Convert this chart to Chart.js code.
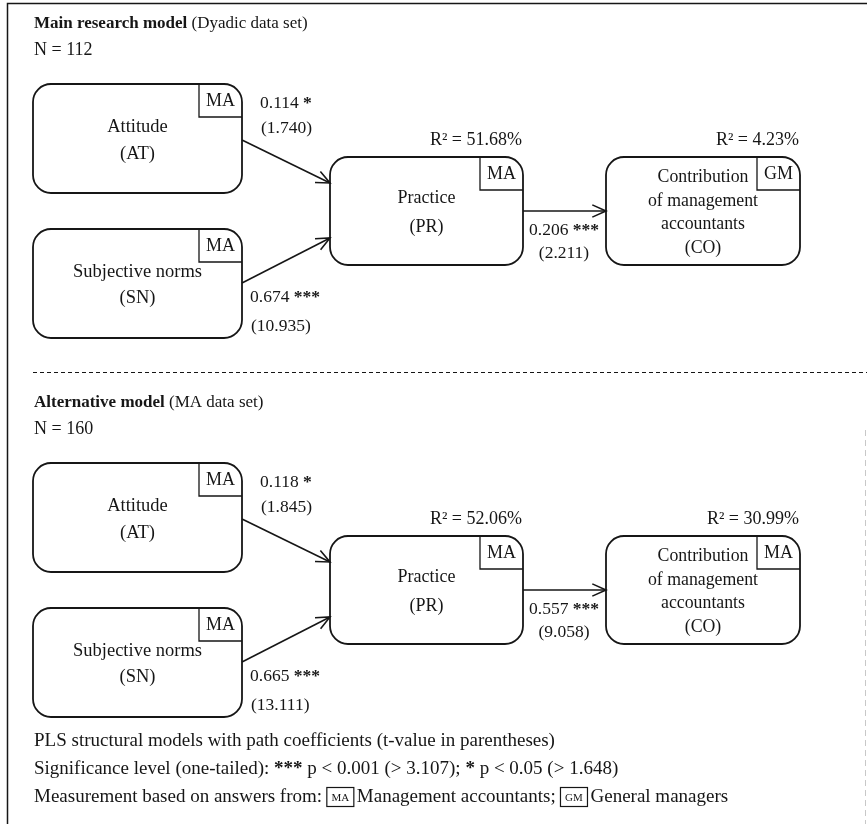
<!DOCTYPE html>
<html>
<head>
<meta charset="utf-8">
<script src="https://cdn.jsdelivr.net/npm/chart.js@4.4.1/dist/chart.umd.min.js"></script>
<style>
    html, body { margin: 0; padding: 0; background: #fff; }
</style>
</head>
<body>
<canvas id="pathChart" width="867" height="824"></canvas>
<script>
// ---- data ----
const modelNames = ['Main research model', 'Alternative model'];
const dataSetNames = ['(Dyadic data set)', '(MA data set)'];
const sampleSizes = [112, 160];

const constructCodes = ['AT', 'SN', 'PR', 'CO'];
const constructLabels = [['Attitude'], ['Subjective norms'], ['Practice'], ['Contribution', 'of management', 'accountants']];
const respondentsMain = ['MA', 'MA', 'MA', 'GM'];
const respondentsAlt = ['MA', 'MA', 'MA', 'MA'];

const pathFrom = ['AT', 'SN', 'PR'];
const pathTo = ['PR', 'PR', 'CO'];
const coefMain = [0.114, 0.674, 0.206];
const tValueMain = [1.740, 10.935, 2.211];
const sigMain = ['*', '***', '***'];
const coefAlt = [0.118, 0.665, 0.557];
const tValueAlt = [1.845, 13.111, 9.058];
const sigAlt = ['*', '***', '***'];

const r2Codes = ['PR', 'CO'];
const r2Main = [51.68, 4.23];
const r2Alt = [52.06, 30.99];

const sigMarks = ['***', '*'];
const sigP = ['0.001', '0.05'];
const sigT = [3.107, 1.648];
const respondentCodes = ['MA', 'GM'];
const respondentNames = ['Management accountants', 'General managers'];

const models = [
    { coef: coefMain, t: tValueMain, sig: sigMain, r2: r2Main, resp: respondentsMain },
    { coef: coefAlt, t: tValueAlt, sig: sigAlt, r2: r2Alt, resp: respondentsAlt }
];

// ---- layout (same units as the hidden axes) ----
const modelTop = [0, 379];
const nodeBox = {
    AT: { x: 33, y: 84, w: 209, h: 109, gap: 27, size: 18.5 },
    SN: { x: 33, y: 229, w: 209, h: 109, gap: 26, size: 18.5 },
    PR: { x: 330, y: 157, w: 193, h: 108, gap: 29, size: 18 },
    CO: { x: 606, y: 157, w: 194, h: 108, gap: 23.5, size: 17.8 }
};
const pathAnchor = [[56, 26], [54, 81], [54, 54]];
const coefPos = [
    { x: 260, y: 103, ty: 128, align: 'left' },
    { x: 250, y: 297, ty: 326, align: 'left' },
    { x: 564, y: 230, ty: 253, align: 'center' }
];
const tagW = 43, tagH = 33, radius = 18;
const ink = '#161616';
const serif = '"Liberation Serif", "Times New Roman", serif';
const fontSize = 17.5;
const noteSize = 19;

// arrow shafts as line datasets
const arrowSets = [];
modelTop.forEach((off, m) => {
    pathFrom.forEach((f, i) => {
        const a = nodeBox[f], b = nodeBox[pathTo[i]];
        arrowSets.push({
            data: [
                { x: a.x + a.w, y: off + a.y + pathAnchor[i][0] },
                { x: b.x, y: off + b.y + pathAnchor[i][1] }
            ],
            showLine: true,
            borderColor: ink,
            borderWidth: 1.6,
            pointRadius: 0
        });
    });
});

function richText(ctx, parts, x, y, align, size) {
    let total = 0;
    parts.forEach(p => {
        ctx.font = (p[1] ? 'bold ' : '') + size + 'px ' + serif;
        total += ctx.measureText(p[0]).width;
    });
    let cx = align === 'center' ? x - total / 2 : (align === 'right' ? x - total : x);
    ctx.textAlign = 'left';
    parts.forEach(p => {
        ctx.font = (p[1] ? 'bold ' : '') + size + 'px ' + serif;
        ctx.fillText(p[0], cx, y);
        cx += ctx.measureText(p[0]).width;
    });
    return cx;
}

const diagramPlugin = {
    id: 'diagram',
    afterDatasetsDraw(chart) {
        const ctx = chart.ctx;
        const px = v => chart.scales.x.getPixelForValue(v);
        const py = v => chart.scales.y.getPixelForValue(v);
        ctx.save();
        ctx.strokeStyle = ink;
        ctx.fillStyle = ink;
        ctx.textBaseline = 'middle';

        // outer frame
        ctx.lineWidth = 1.5;
        ctx.beginPath();
        ctx.moveTo(px(7.5), py(824));
        ctx.lineTo(px(7.5), py(3.5));
        ctx.lineTo(px(867), py(3.5));
        ctx.stroke();
        ctx.strokeStyle = '#c8c8c8';
        ctx.lineWidth = 1;
        ctx.setLineDash([6, 4]);
        ctx.beginPath();
        ctx.moveTo(px(865.5), py(430));
        ctx.lineTo(px(865.5), py(824));
        ctx.stroke();
        ctx.setLineDash([]);
        ctx.strokeStyle = ink;

        // separator
        ctx.lineWidth = 1;
        ctx.setLineDash([4, 3]);
        ctx.beginPath();
        ctx.moveTo(px(33), py(372.5));
        ctx.lineTo(px(867), py(372.5));
        ctx.stroke();
        ctx.setLineDash([]);

        modelTop.forEach((off, m) => {
            const md = models[m];
            richText(ctx, [[modelNames[m], true], [' ' + dataSetNames[m], false]], px(34), py(off + 24), 'left', 17);
            richText(ctx, [['N = ' + sampleSizes[m], false]], px(34), py(off + 50), 'left', 18);

            // construct boxes
            constructCodes.forEach((code, i) => {
                const b = nodeBox[code];
                const x0 = px(b.x), y0 = py(off + b.y);
                const x1 = px(b.x + b.w), y1 = py(off + b.y + b.h);
                ctx.lineWidth = 1.8;
                ctx.beginPath();
                ctx.roundRect(x0, y0, x1 - x0, y1 - y0, radius);
                ctx.stroke();
                // respondent tag
                ctx.lineWidth = 1.3;
                ctx.beginPath();
                ctx.moveTo(x1 - tagW, y0);
                ctx.lineTo(x1 - tagW, y0 + tagH);
                ctx.lineTo(x1, y0 + tagH);
                ctx.stroke();
                richText(ctx, [[md.resp[i], false]], x1 - tagW / 2, y0 + tagH / 2 + 1, 'center', 18);
                // label lines
                const lines = constructLabels[i].concat(['(' + code + ')']);
                const cx = (x0 + x1) / 2;
                const mid = (y0 + y1) / 2 + 2;
                lines.forEach((ln, k) => {
                    const ly = mid + (k - (lines.length - 1) / 2) * b.gap;
                    richText(ctx, [[ln, false]], cx, ly, 'center', b.size);
                });
            });

            // R squared
            r2Codes.forEach((code, i) => {
                const b = nodeBox[code];
                richText(ctx, [['R\u00b2 = ' + md.r2[i].toFixed(2) + '%', false]], px(b.x + b.w - 1), py(off + b.y - 17), 'right', 18);
            });

            // arrowheads and path coefficients
            pathFrom.forEach((f, i) => {
                const a = nodeBox[f], b = nodeBox[pathTo[i]];
                const sx = px(a.x + a.w), sy = py(off + a.y + pathAnchor[i][0]);
                const ex = px(b.x), ey = py(off + b.y + pathAnchor[i][1]);
                const ang = Math.atan2(ey - sy, ex - sx);
                const len = 15, spread = 0.42;
                ctx.lineWidth = 1.6;
                ctx.beginPath();
                ctx.moveTo(ex - len * Math.cos(ang - spread), ey - len * Math.sin(ang - spread));
                ctx.lineTo(ex, ey);
                ctx.lineTo(ex - len * Math.cos(ang + spread), ey - len * Math.sin(ang + spread));
                ctx.stroke();

                const p = coefPos[i];
                richText(ctx, [[md.coef[i].toFixed(3) + ' ', false], [md.sig[i], true]], px(p.x), py(off + p.y), p.align, fontSize);
                const tx = p.align === 'center' ? px(p.x) : px(p.x + 1);
                richText(ctx, [['(' + md.t[i].toFixed(3) + ')', false]], tx, py(off + p.ty), p.align, fontSize);
            });
        });

        // notes
        richText(ctx, [['PLS structural models with path coefficients (t-value in parentheses)', false]], px(34), py(741), 'left', noteSize);
        richText(ctx, [
            ['Significance level (one-tailed): ', false], [sigMarks[0], true],
            [' p < ' + sigP[0] + ' (> ' + sigT[0].toFixed(3) + '); ', false], [sigMarks[1], true],
            [' p < ' + sigP[1] + ' (> ' + sigT[1].toFixed(3) + ')', false]
        ], px(34), py(769), 'left', noteSize);

        let nx = richText(ctx, [['Measurement based on answers from: ', false]], px(34), py(797), 'left', noteSize);
        respondentCodes.forEach((code, i) => {
            ctx.font = '11px ' + serif;
            const bw = 27, bh = 19;
            ctx.lineWidth = 1.2;
            ctx.strokeRect(nx, py(797) - bh / 2, bw, bh);
            ctx.textAlign = 'center';
            ctx.fillText(code, nx + bw / 2, py(797) + 1);
            nx = richText(ctx, [[respondentNames[i] + (i === 0 ? '; ' : ''), false]], nx + bw + 3, py(797), 'left', noteSize);
        });
        ctx.restore();
    }
};

new Chart(document.getElementById('pathChart'), {
    type: 'scatter',
    data: { datasets: arrowSets },
    options: {
        responsive: false,
        animation: false,
        events: [],
        layout: { padding: 0 },
        plugins: { legend: { display: false }, tooltip: { enabled: false } },
        scales: {
            x: { type: 'linear', min: 0, max: 867, display: false },
            y: { type: 'linear', min: 0, max: 824, reverse: true, display: false }
        }
    },
    plugins: [diagramPlugin]
});
</script>
</body>
</html>
